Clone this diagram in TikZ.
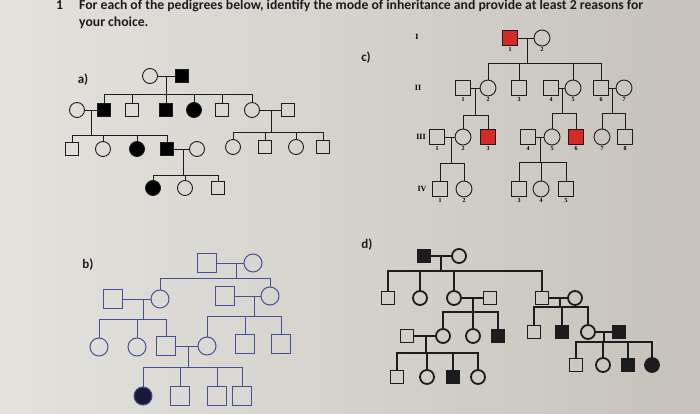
\documentclass[tikz,border=0pt]{standalone}
\usepackage{fontspec}
\setmainfont{Carlito}
\newfontfamily\numfont{Liberation Serif}
\definecolor{paperlight}{RGB}{228,226,221}
\definecolor{paperdark}{RGB}{198,194,187}
\definecolor{ink}{RGB}{28,28,30}
\definecolor{penblue}{RGB}{70,80,150}
\definecolor{affred}{RGB}{214,42,42}

\begin{document}
\begin{tikzpicture}[x=1pt,y=-1pt,
male/.style={rectangle, draw, minimum size=13pt, inner sep=0pt},
female/.style={circle, draw, minimum size=15pt, inner sep=0pt},
aff/.style={fill=black},
red/.style={fill=affred},
title/.style={anchor=base west, font=\bfseries\fontsize{13.7}{13.7}\selectfont, text=ink, inner sep=0pt},
tag/.style={font=\bfseries\fontsize{13}{13}\selectfont, text=ink},
gen/.style={font=\numfont\bfseries\fontsize{8}{8}\selectfont, inner sep=0pt},
num/.style={font=\numfont\bfseries\fontsize{6}{6}\selectfont, inner sep=1pt}
]
\useasboundingbox (0,0) rectangle (700,414);
\shade[left color=paperlight, right color=paperdark] (0,0) rectangle (700,414);

\node[title] (qnum) at (56,10) {1};
\node[title] (qline1) at (79,10) {For each of the pedigrees below, identify the mode of inheritance and provide at least 2 reasons for};
\node[title] (qline2) at (79,26.5) {your choice.};

\node[tag] (a_tag) at (83,80) {a)};
\node[tag] (b_tag) at (88,265) {b)};
\node[tag] (c_tag) at (366,58) {c)};
\node[tag] (d_tag) at (367,245) {d)};

% a)
\begin{scope}[line width=0.9pt, draw=ink]
\node[female] (a_I1) at (150,76) {};
\node[male,aff] (a_I2) at (182,76) {};
\node[female] (a_II1) at (77,110) {};
\node[male,aff] (a_II2) at (104,110) {};
\node[male] (a_II3) at (132,110) {};
\node[male,aff] (a_II4) at (166,110) {};
\node[female,aff] (a_II5) at (194,110) {};
\node[male] (a_II6) at (222,110) {};
\node[female] (a_II7) at (252,110) {};
\node[male] (a_II8) at (288,110) {};
\node[male] (a_III1) at (72,149) {};
\node[female] (a_III2) at (103,149) {};
\node[female,aff] (a_III3) at (137,149) {};
\node[male,aff] (a_III4) at (167,149) {};
\node[female] (a_III5) at (197,149) {};
\node[female] (a_III6) at (233,147) {};
\node[male] (a_III7) at (265,147) {};
\node[female] (a_III8) at (296,147) {};
\node[male] (a_III9) at (323,147) {};
\node[female,aff] (a_IV1) at (153,188) {};
\node[female] (a_IV2) at (185,188) {};
\node[male] (a_IV3) at (218,188) {};
\coordinate (a_s1) at (166,94);
\coordinate (a_s2) at (91,135);
\coordinate (a_s3) at (271,132);
\coordinate (a_s4) at (183,175);
\draw (a_I1) -- (a_I2) (a_II1) -- (a_II2) (a_II7) -- (a_II8) (a_III4) -- (a_III5);
\draw (a_s1 |- a_I1) -- (a_s1) (a_s2 |- a_II1) -- (a_s2) (a_s3 |- a_II7) -- (a_s3) (a_s4 |- a_III4) -- (a_s4);
\foreach \k in {a_II2,a_II3,a_II4,a_II5,a_II6,a_II7} \draw (\k) |- (a_s1);
\foreach \k in {a_III1,a_III2,a_III3,a_III4} \draw (\k) |- (a_s2);
\foreach \k in {a_III6,a_III7,a_III8,a_III9} \draw (\k) |- (a_s3);
\foreach \k in {a_IV1,a_IV2,a_IV3} \draw (\k) |- (a_s4);
\end{scope}

% b)
\begin{scope}[line width=1pt, draw=penblue, male/.append style={minimum size=19pt}, female/.append style={minimum size=18pt}, aff/.append style={fill=ink!90!blue}]
\node[male] (b_I1) at (207,263) {};
\node[female] (b_I2) at (253,263) {};
\node[male] (b_II1) at (113,299) {};
\node[female] (b_II2) at (160,299) {};
\node[male] (b_II3) at (225,296) {};
\node[female] (b_II4) at (270,296) {};
\node[female] (b_III1) at (99,347) {};
\node[female] (b_III2) at (137,347) {};
\node[male] (b_III3) at (166,346) {};
\node[female] (b_III4) at (207,346) {};
\node[male] (b_III5) at (245,344) {};
\node[male] (b_III6) at (281,344) {};
\node[female,aff] (b_IV1) at (143,396) {};
\node[male] (b_IV2) at (180,396) {};
\node[male] (b_IV3) at (217,396) {};
\node[male] (b_IV4) at (242,396) {};
\coordinate (b_s1) at (236,278);
\coordinate (b_s2) at (143,319);
\coordinate (b_s3) at (254,316);
\coordinate (b_s4) at (188,367);
\draw (b_I1) -- (b_I2) (b_II1) -- (b_II2) (b_II3) -- (b_II4) (b_III3) -- (b_III4);
\draw (b_s1 |- b_I1) -- (b_s1) (b_s2 |- b_II1) -- (b_s2) (b_s3 |- b_II3) -- (b_s3) (b_s4 |- b_III3) -- (b_s4);
\foreach \k in {b_II2,b_II4} \draw (\k) |- (b_s1);
\foreach \k in {b_III1,b_III2,b_III3} \draw (\k) |- (b_s2);
\foreach \k in {b_III4,b_III5,b_III6} \draw (\k) |- (b_s3);
\foreach \k in {b_IV1,b_IV2,b_IV3,b_IV4} \draw (\k) |- (b_s4);
\end{scope}

% c)
\begin{scope}[line width=0.9pt, draw=ink, male/.append style={minimum size=15pt}, female/.append style={minimum size=16pt}]
\node[gen] (c_gI) at (417,37) {I};
\node[gen] (c_gII) at (418,88) {II};
\node[gen] (c_gIII) at (421,137) {III};
\node[gen] (c_gIV) at (422,189) {IV};
\node[male,red,label={[num]below:1}] (c_I1) at (510,38) {};
\node[female,label={[num]below:2}] (c_I2) at (542,38) {};
\node[male,label={[num]below:1}] (c_II1) at (463,88) {};
\node[female,label={[num]below:2}] (c_II2) at (488,88) {};
\node[male,label={[num]below:3}] (c_II3) at (519,88) {};
\node[male,label={[num]below:4}] (c_II4) at (551,88) {};
\node[female,label={[num]below:5}] (c_II5) at (573,88) {};
\node[male,label={[num]below:6}] (c_II6) at (601,88) {};
\node[female,label={[num]below:7}] (c_II7) at (624,88) {};
\node[male,label={[num]below:1}] (c_III1) at (437,137) {};
\node[female,label={[num]below:2}] (c_III2) at (463,137) {};
\node[male,red,label={[num]below:3}] (c_III3) at (488,137) {};
\node[male,label={[num]below:4}] (c_III4) at (528,137) {};
\node[female,label={[num]below:5}] (c_III5) at (552,137) {};
\node[male,red,label={[num]below:6}] (c_III6) at (576,137) {};
\node[female,label={[num]below:7}] (c_III7) at (602,137) {};
\node[male,label={[num]below:8}] (c_III8) at (625,137) {};
\node[male,label={[num]below:1}] (c_IV1) at (440,189) {};
\node[female,label={[num]below:2}] (c_IV2) at (464,189) {};
\node[male,label={[num]below:3}] (c_IV3) at (519,189) {};
\node[female,label={[num]below:4}] (c_IV4) at (541,189) {};
\node[male,label={[num]below:5}] (c_IV5) at (566,189) {};
\coordinate (c_s1) at (527,63);
\coordinate (c_s2) at (475,115);
\coordinate (c_s3) at (562,113);
\coordinate (c_s4) at (612,113);
\coordinate (c_s5) at (451,163);
\coordinate (c_s6) at (540,162);
\draw (c_I1) -- (c_I2) (c_II1) -- (c_II2) (c_II4) -- (c_II5) (c_II6) -- (c_II7) (c_III1) -- (c_III2) (c_III4) -- (c_III5);
\draw (c_s1 |- c_I1) -- (c_s1) (c_s2 |- c_II1) -- (c_s2) (c_s3 |- c_II4) -- (c_s3) (c_s4 |- c_II6) -- (c_s4) (c_s5 |- c_III1) -- (c_s5) (c_s6 |- c_III4) -- (c_s6);
\foreach \k in {c_II2,c_II3,c_II5,c_II6} \draw (\k) |- (c_s1);
\foreach \k in {c_III2,c_III3} \draw (\k) |- (c_s2);
\foreach \k in {c_III5,c_III6} \draw (\k) |- (c_s3);
\foreach \k in {c_III7,c_III8} \draw (\k) |- (c_s4);
\foreach \k in {c_IV1,c_IV2} \draw (\k) |- (c_s5);
\foreach \k in {c_IV3,c_IV4,c_IV5} \draw (\k) |- (c_s6);
\end{scope}

% d)
\begin{scope}[line width=1.8pt, draw=ink, male/.append style={minimum size=13pt}, female/.append style={minimum size=14pt}, aff/.append style={fill=ink}]
\node[male,aff] (d_I1) at (424,256) {};
\node[female] (d_I2) at (459,256) {};
\node[male] (d_II1) at (388,298) {};
\node[female] (d_II2) at (420,298) {};
\node[female] (d_II3) at (454,298) {};
\node[male] (d_II4) at (490,298) {};
\node[male] (d_II5) at (542,298) {};
\node[female] (d_II6) at (575,298) {};
\node[male] (d_III1) at (407,336) {};
\node[female] (d_III2) at (443,336) {};
\node[female] (d_III3) at (473,336) {};
\node[male,aff] (d_III4) at (498,336) {};
\node[male] (d_III5) at (534,332) {};
\node[male,aff] (d_III6) at (562,332) {};
\node[female] (d_III7) at (588,332) {};
\node[male,aff] (d_III8) at (619,332) {};
\node[male] (d_IV1) at (397,377) {};
\node[female] (d_IV2) at (427,377) {};
\node[male,aff] (d_IV3) at (453,377) {};
\node[female] (d_IV4) at (478,377) {};
\node[male] (d_IV5) at (576,365) {};
\node[female] (d_IV6) at (603,365) {};
\node[male,aff] (d_IV7) at (628,365) {};
\node[female,aff] (d_IV8) at (652,365) {};
\coordinate (d_s1) at (441,271);
\coordinate (d_s2) at (473,312);
\coordinate (d_s3) at (426,353);
\coordinate (d_s4) at (560,307);
\coordinate (d_s5) at (604,342);
\draw (d_I1) -- (d_I2) (d_II3) -- (d_II4) (d_II5) -- (d_II6) (d_III1) -- (d_III2) (d_III7) -- (d_III8);
\draw (d_s1 |- d_I1) -- (d_s1) (d_s2 |- d_II3) -- (d_s2) (d_s3 |- d_III1) -- (d_s3) (d_s4 |- d_II5) -- (d_s4) (d_s5 |- d_III7) -- (d_s5);
\foreach \k in {d_II1,d_II2,d_II3,d_II5} \draw (\k) |- (d_s1);
\foreach \k in {d_III2,d_III3,d_III4} \draw (\k) |- (d_s2);
\foreach \k in {d_IV1,d_IV2,d_IV3,d_IV4} \draw (\k) |- (d_s3);
\foreach \k in {d_III5,d_III6,d_III7} \draw (\k) |- (d_s4);
\foreach \k in {d_IV5,d_IV6,d_IV7,d_IV8} \draw (\k) |- (d_s5);
\end{scope}
\end{tikzpicture}
\end{document}
